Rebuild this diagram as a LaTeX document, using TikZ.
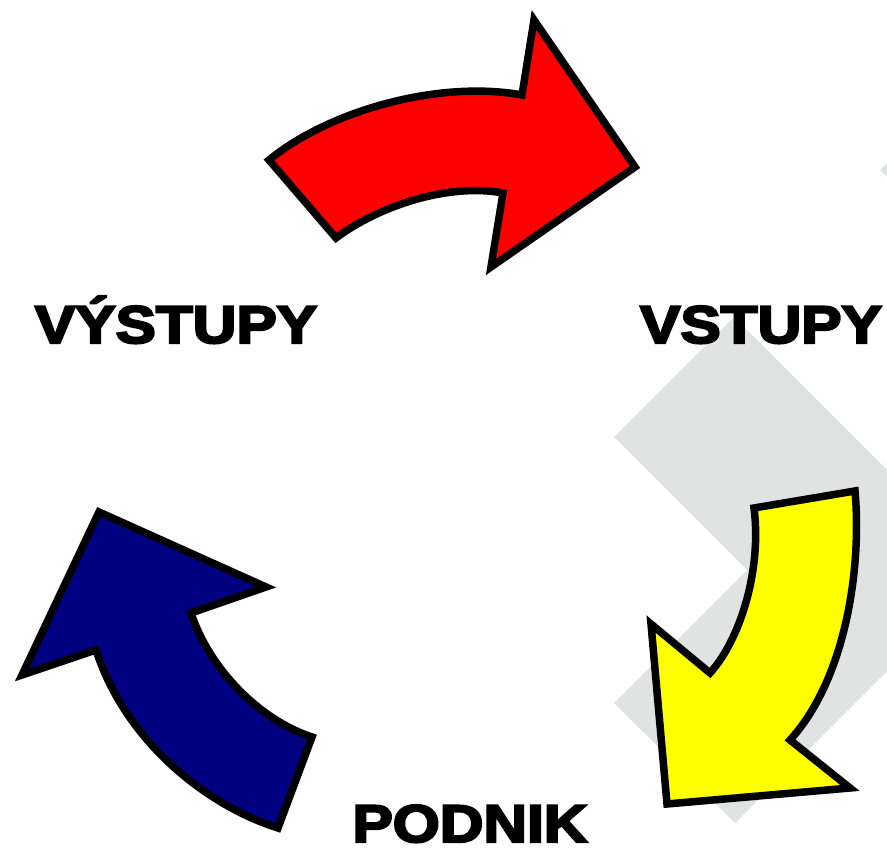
\documentclass[tikz,border=0pt]{standalone}
\usepackage{fontspec}
\usepackage{tikz}
\newfontfamily\cyclefont{Liberation Sans Bold}[FakeBold=4]
\definecolor{arrred}{RGB}{255,0,0}
\definecolor{arryellow}{RGB}{255,255,0}
\definecolor{arrblue}{RGB}{0,0,128}
\definecolor{backgray}{RGB}{225,227,227}

\begin{document}
\begin{tikzpicture}[line join=miter,
    arrow/.style={draw=black, line width=7.5bp},
    back/.style={fill=backgray, draw=none}]
      \tikzstyle{every node}=[font=\fontsize{53bp}{53bp}\cyclefont, anchor=base, xscale=1.14, inner sep=0pt, text depth=0pt]
      \useasboundingbox (0bp,0bp) rectangle (887bp,853bp);
      %%
  \fill [back] (734bp,536bp) -- (887bp,383bp) -- (887bp,182bp) -- (735bp,30bp) -- (614bp,150bp) -- (747bp,283bp) -- (614bp,416bp) -- cycle;
  \fill [back] (880bp,683bp) -- (887bp,690bp) -- (887bp,676bp) -- cycle;
  %% red arrow
  \draw [arrow, fill=arrred] (269bp,693bp) .. controls (330bp,743bp) and (440bp,773bp) .. (522bp,758bp) -- (534bp,833bp) -- (635bp,686bp) -- (491bp,586bp) -- (503bp,660bp) .. controls (450bp,670bp) and (380bp,648bp) .. (336bp,615bp) -- cycle;
  %% yellow arrow
  \draw [arrow, fill=arryellow] (754bp,345bp) -- (855bp,362bp) .. controls (862bp,283bp) and (845bp,173bp) .. (790bp,113bp) -- (850bp,65bp) -- (667bp,49bp) -- (651bp,229bp) -- (710bp,180bp) .. controls (740bp,213bp) and (762bp,283bp) .. (754bp,345bp) -- cycle;
  %% blue arrow
  \draw [arrow, fill=arrblue] (99bp,341bp) -- (266bp,266bp) -- (191bp,240bp) .. controls (210bp,183bp) and (260bp,133bp) .. (312bp,116bp) -- (278bp,25bp) .. controls (205bp,48bp) and (125bp,113bp) .. (96bp,203bp) -- (22bp,178bp) -- cycle;
  %% labels
  \node (vystupy) at (176bp,510bp) {VÝSTUPY};
  \node (vstupy) at (761bp,510bp) {VSTUPY};
  \node (podnik) at (470bp,11bp) {PODNIK};
%
\end{tikzpicture}
\end{document}
